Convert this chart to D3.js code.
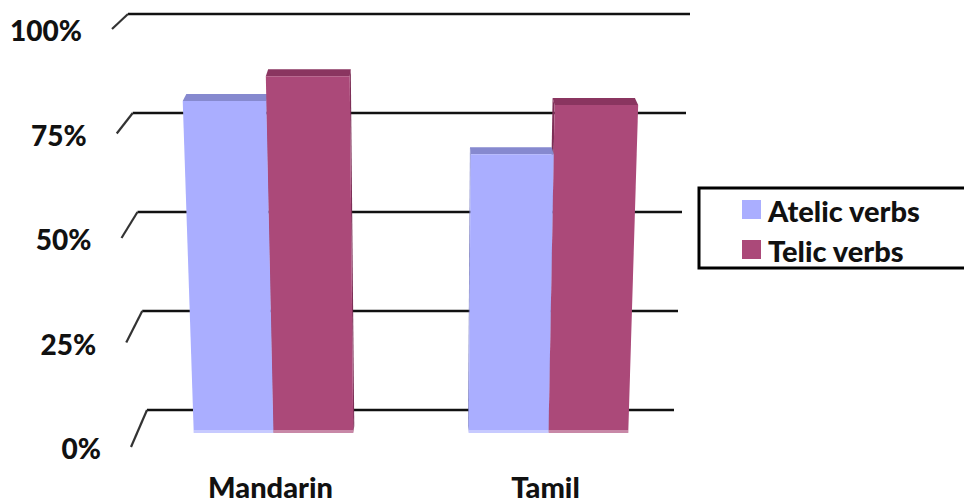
<!DOCTYPE html>
<html>
<head>
<meta charset="utf-8">
<script src="https://cdn.jsdelivr.net/npm/d3@7/dist/d3.min.js"></script>
<style>
  html, body { margin: 0; padding: 0; background: #fff; }
  svg { display: block; }
  text { font-family: Lato, "Open Sans", sans-serif; font-weight: 900; fill: #111; }
</style>
</head>
<body>
<svg id="chart" width="964" height="504"></svg>
<script>
// Share of responses by language and verb type (percent)
const categories = ["Mandarin", "Tamil"];
const seriesNames = ["Atelic verbs", "Telic verbs"];
const atelicValues = [81, 68];
const telicValues = [87, 80];
const tickValues = [0, 25, 50, 75, 100];
const tickLabels = ["0%", "25%", "50%", "75%", "100%"];

const frontColors = ["#aaaeff", "#ab4979"];
const topColors = ["#8689cf", "#8a3560"];
const sideColors = ["#7c7fc4", "#7d2f57"];

const svg = d3.select("#chart");

// Value scales for the three depth planes of the 3D box
const yWall = d3.scaleLinear().domain([0, 100]).range([410, 14]);   // back wall
const yFront = d3.scaleLinear().domain([0, 100]).range([447, 29]);  // outer end of the slanted ticks
const yBar = d3.scaleLinear().domain([0, 100]).range([433, 23]);    // plane of the bar fronts

// Horizontal extents of the back wall and the slanted ticks per value
const wallLeft = d3.scaleLinear().domain([0, 100]).range([147, 128]);
const wallRight = d3.scaleLinear().domain([0, 100]).range([674, 690]);
const frontX = d3.scaleLinear().domain([0, 100]).range([131, 112]);

// Category and series bands along the bar baseline
const x = d3.scaleBand().domain(categories).range([136, 686])
  .paddingInner(0.42).paddingOuter(0.21);
const xSeries = d3.scaleBand().domain(seriesNames).range([0, x.bandwidth()]);

// Perspective: columns spread slightly wider as they rise
const vanishX = 421, spread = 0.000146, depth = 7, backShrink = 0.985;
const baseY = yBar(0);
const px = (X, y) => vanishX + (X - vanishX) * (1 + spread * (baseY - y));
const bx = (X, y) => vanishX + (px(X, y) - vanishX) * backShrink;

// Gridlines on the back wall, with slanted ticks on the floor edge
const grid = svg.append("g");
grid.selectAll("line.h").data(tickValues).join("line")
  .attr("class", "h")
  .attr("x1", d => wallLeft(d)).attr("x2", d => wallRight(d))
  .attr("y1", d => yWall(d)).attr("y2", d => yWall(d))
  .attr("stroke", "#111").attr("stroke-width", 2.6);
grid.selectAll("line.s").data(tickValues).join("line")
  .attr("class", "s")
  .attr("x1", d => wallLeft(d)).attr("y1", d => yWall(d))
  .attr("x2", d => frontX(d)).attr("y2", d => yFront(d))
  .attr("stroke", "#333").attr("stroke-width", 2.2);

// Axis labels
svg.append("g").selectAll("text").data(tickValues).join("text")
  .attr("x", d => frontX(d) - 30)
  .attr("y", d => yFront(d) + 12)
  .attr("text-anchor", "end")
  .attr("font-size", 28)
  .text((d, i) => tickLabels[i]);

// Build bar records
const bars = [];
categories.forEach((c, ci) => {
  [atelicValues, telicValues].forEach((vals, si) => {
    const x0 = x(c) + xSeries(seriesNames[si]);
    const x1 = x0 + xSeries.bandwidth();
    bars.push({ cat: c, si, v: vals[ci], x0, x1 });
  });
});
// Draw the columns farthest from the vanishing point first
bars.sort((a, b) => Math.abs((b.x0 + b.x1) / 2 - vanishX) - Math.abs((a.x0 + a.x1) / 2 - vanishX));

const pts = arr => arr.map(p => p.join(",")).join(" ");
const barG = svg.append("g");
bars.forEach(b => {
  const yT = yBar(b.v), yB = baseY;
  const g = barG.append("g");
  const leftOfCenter = (b.x0 + b.x1) / 2 < vanishX;
  // visible side face
  const sx = leftOfCenter ? b.x1 : b.x0;
  g.append("polygon")
    .attr("points", pts([[px(sx, yT), yT], [px(sx, yB), yB], [bx(sx, yB), yB - depth], [bx(sx, yT), yT - depth]]))
    .attr("fill", sideColors[b.si]);
  // top face
  g.append("polygon")
    .attr("points", pts([[px(b.x0, yT), yT], [px(b.x1, yT), yT], [bx(b.x1, yT), yT - depth], [bx(b.x0, yT), yT - depth]]))
    .attr("fill", topColors[b.si]);
  // front face
  g.append("polygon")
    .attr("points", pts([[px(b.x0, yB), yB], [px(b.x1, yB), yB], [px(b.x1, yT), yT], [px(b.x0, yT), yT]]))
    .attr("fill", frontColors[b.si]);
  // soft light edge along the base
  g.append("polygon")
    .attr("points", pts([[px(b.x0, yB), yB], [px(b.x1, yB), yB], [px(b.x1, yB - 3), yB - 3], [px(b.x0, yB - 3), yB - 3]]))
    .attr("fill", "#fff").attr("opacity", 0.35);
});

// Category labels
svg.append("g").selectAll("text").data(categories).join("text")
  .attr("x", d => x(d) + x.bandwidth() / 2 - 3)
  .attr("y", 498)
  .attr("text-anchor", "middle")
  .attr("font-size", 29)
  .text(d => d);

// Legend
const legend = svg.append("g");
legend.append("rect")
  .attr("x", 699).attr("y", 188).attr("width", 280).attr("height", 80)
  .attr("fill", "#fff").attr("stroke", "#000").attr("stroke-width", 3);
const ly = d3.scaleBand().domain(seriesNames).range([190, 270]);
seriesNames.forEach((s, i) => {
  legend.append("rect")
    .attr("x", 742).attr("y", ly(s) + ly.bandwidth() / 2 - 10)
    .attr("width", 19).attr("height", 19)
    .attr("fill", frontColors[i]);
  legend.append("text")
    .attr("x", 768).attr("y", ly(s) + ly.bandwidth() / 2 + 12)
    .attr("font-size", 29)
    .text(s);
});
</script>
</body>
</html>
